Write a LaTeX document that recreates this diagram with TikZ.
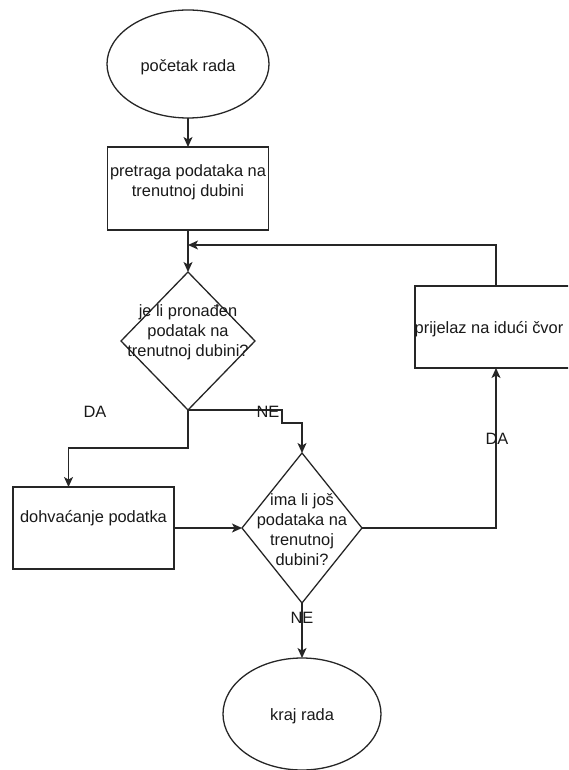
\documentclass[tikz,border=0pt]{standalone}
\usepackage{fontspec}
\setmainfont{Liberation Sans}
\usetikzlibrary{shapes.geometric,arrows.meta}
\begin{document}
\begin{tikzpicture}[x=1pt,y=-1pt,
  line/.style={draw=black!85, line width=1.3pt},
  flow/.style={line, -{Stealth[length=10pt,width=9pt,inset=2.5pt]}},
  txt/.style={font=\fontsize{16.4}{20}\selectfont, align=center, text=black!90, inner sep=0pt},
  terminal/.style={ellipse, line, fill=white, inner sep=0pt, outer sep=0pt},
  proc/.style={rectangle, line, fill=white, inner sep=0pt, outer sep=0pt},
  decision/.style={diamond, line, fill=white, inner sep=0pt, outer sep=0pt},
  edgetxt/.style={font=\fontsize{16.4}{20}\selectfont, text=black!90, inner sep=0pt},
]
\path[use as bounding box, clip] (0,0) rectangle (568,770);

% shapes
\node[terminal, minimum width=162, minimum height=108,
      label={[txt, yshift=-3pt]center:početak rada}] (start) at (188,64) {};
\node[proc, minimum width=161, minimum height=83,
      label={[txt, yshift=6.5pt]center:pretraga podataka na\\trenutnoj dubini}] (search) at (188,188.5) {};
\node[decision, minimum width=134, minimum height=138,
      label={[txt, yshift=9pt]center:je li pronađen\\podatak na\\trenutnoj dubini?}] (found) at (188,341) {};
\node[proc, minimum width=161, minimum height=82,
      label={[txt, yshift=10pt]center:dohvaćanje podatka}] (fetch) at (93.5,528) {};
\node[decision, minimum width=120, minimum height=150,
      label={[txt, yshift=-1.5pt]center:ima li još\\podataka na\\trenutnoj\\dubini?}] (more) at (302,528) {};
\node[proc, minimum width=162, minimum height=82,
      label={[txt, yshift=-2pt, xshift=-7pt]center:prijelaz na idući čvor}] (next) at (496,327) {};
\node[terminal, minimum width=158, minimum height=112,
      label={[txt, yshift=-2pt]center:kraj rada}] (end) at (302,714) {};

\coordinate (merge) at (188,245);

% connectors
\draw[flow] (start) -- (search);
\draw[flow] (search) -- (found);
\draw[flow] (found.south) -- ++(0,38) -| ([xshift=-25pt]fetch.north);
\draw[flow] (found.south) -- ++(94,0) -- ++(0,13) -| (more.north);
\draw[flow] (fetch) -- (more);
\draw[flow] (more.east) -| (next.south);
\draw[flow] (next.north) |- (merge);
\draw[flow] (more) -- (end);

% edge labels
\node[edgetxt] (daLeft) at (95,412) {DA};
\node[edgetxt] (neRight) at (268,412) {NE};
\node[edgetxt] (daUp) at (497,439) {DA};
\node[edgetxt] (neDown) at (302,618) {NE};
\end{tikzpicture}
\end{document}
